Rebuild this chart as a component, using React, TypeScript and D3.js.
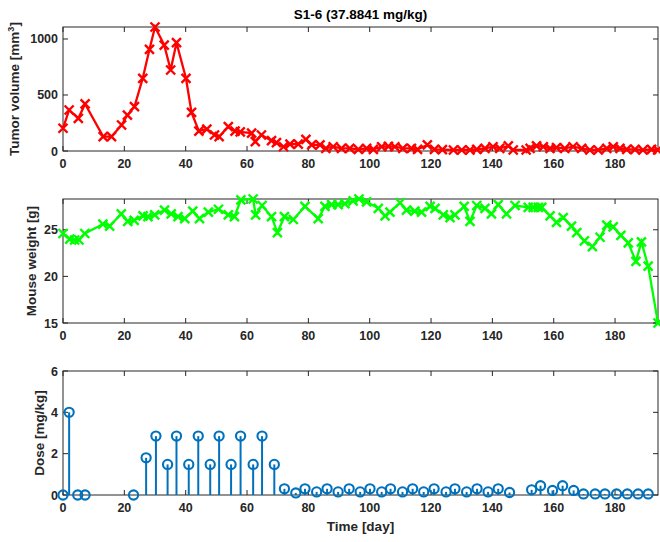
import React from 'react';
import * as d3 from 'd3';

const tumorDays = [0, 2.0, 5.0, 7.2, 13.1, 15.8, 19.1, 21.0, 23.3, 26.0, 28.2, 30.0, 33.0, 35.1, 37.0, 40.1, 41.9, 44.3, 46.9, 49.4, 50.9, 53.9, 56.1, 57.8, 61.5, 62.7, 64.7, 68.0, 69.6, 71.9, 74.0, 76.7, 79.2, 81.1, 83.8, 85.7, 88.1, 90.8, 93.5, 96.3, 99.0, 101.2, 103.9, 106.1, 108.2, 110.8, 113.6, 115.6, 118.8, 121.1, 123.7, 127.3, 130.0, 132.7, 134.9, 137.6, 140.2, 142.4, 145.2, 146.8, 151.0, 152.3, 154.4, 156.6, 158.8, 160.9, 163.6, 166.3, 169.1, 171.8, 174.5, 177.3, 179.4, 181.6, 183.8, 186.5, 189.1, 191.9, 193.9];
const tumorVolume = [203, 366, 292, 420, 128, 128, 232, 321, 396, 649, 908, 1107, 946, 723, 967, 649, 345, 178, 196, 143, 128, 217, 178, 170, 160, 83, 143, 92, 74, 38, 62, 62, 104, 54, 54, 24, 38, 24, 24, 15, 24, 15, 38, 42, 38, 24, 24, 15, 54, 15, 12, 9, 9, 9, 15, 24, 38, 24, 45, 9, 9, 24, 45, 38, 24, 30, 24, 38, 24, 9, 9, 24, 38, 24, 15, 15, 9, 15, 9];

const weightDays = [0, 2.2, 3.8, 5.2, 7.1, 13.0, 15.2, 19.0, 21.1, 23.2, 26.1, 27.7, 29.9, 33.1, 35.3, 37.5, 39.7, 42.3, 44.5, 47.4, 50.7, 53.9, 55.9, 58.0, 62.0, 62.8, 64.9, 68.0, 69.9, 72.2, 75.1, 78.9, 83.2, 85.4, 87.6, 89.7, 91.9, 94.6, 96.5, 99.0, 102.8, 105.0, 106.6, 109.9, 112.0, 114.7, 116.9, 119.7, 121.3, 124.0, 126.2, 127.8, 130.8, 132.7, 134.9, 137.6, 139.7, 141.9, 144.6, 147.4, 151.7, 153.3, 155.0, 156.1, 158.8, 160.9, 163.1, 165.8, 167.5, 170.0, 172.6, 175.1, 177.3, 179.4, 181.9, 184.3, 186.8, 188.6, 190.8, 194.0];
const weightValues = [24.6, 24.0, 23.9, 23.9, 24.6, 25.6, 25.4, 26.7, 25.9, 26.0, 26.5, 26.4, 26.6, 27.1, 26.7, 26.4, 26.2, 27.0, 26.2, 26.9, 27.2, 26.6, 26.4, 28.2, 28.3, 26.6, 27.6, 26.4, 24.7, 26.4, 26.1, 27.5, 26.2, 27.5, 27.7, 27.7, 27.8, 28.1, 28.3, 28.0, 27.3, 26.5, 26.9, 27.9, 27.1, 27.0, 26.9, 27.5, 27.3, 26.6, 26.3, 26.6, 27.5, 25.9, 27.6, 27.3, 26.7, 27.7, 26.7, 27.6, 27.4, 27.4, 27.4, 27.4, 26.5, 25.8, 26.3, 25.4, 24.7, 23.8, 23.2, 24.2, 25.5, 25.3, 24.4, 23.6, 21.6, 23.7, 21.1, 15.0];

const doseDays = [0, 2.0, 4.8, 7.2, 23.0, 27.1, 30.3, 34.1, 37.0, 41.0, 44.1, 48.0, 50.9, 54.8, 57.9, 62.0, 64.9, 68.9, 72.2, 75.9, 78.9, 82.7, 86.1, 89.7, 93.3, 96.9, 100.1, 103.9, 106.8, 110.7, 114.0, 117.6, 121.0, 124.9, 127.8, 131.6, 135.0, 138.6, 141.9, 145.6, 152.8, 155.7, 159.6, 162.9, 166.5, 169.7, 173.5, 176.7, 180.5, 184.0, 187.5, 190.8];
const doseValues = [0, 4.0, 0, 0, 0, 1.8, 2.85, 1.48, 2.85, 1.48, 2.85, 1.48, 2.85, 1.48, 2.85, 1.48, 2.85, 1.48, 0.3, 0.1, 0.3, 0.15, 0.3, 0.15, 0.3, 0.15, 0.3, 0.15, 0.3, 0.15, 0.3, 0.15, 0.3, 0.15, 0.3, 0.15, 0.3, 0.15, 0.3, 0.12, 0.25, 0.45, 0.22, 0.45, 0.22, 0.05, 0.05, 0.05, 0.05, 0.05, 0.05, 0.05];

const xTicks = [0, 20, 40, 60, 80, 100, 120, 140, 160, 180];
const tumorTicks = [0, 500, 1000];
const weightTicks = [15, 20, 25];
const doseTicks = [0, 2, 4, 6];

const FONT = "'Liberation Sans', Arial, Helvetica, sans-serif";
const AX = '#262626';
const LEFT = 63;
const RIGHT = 658;
const PH = 124;

function Frame({ top, y, yTicks, labelX, label }: any) {
  const bottom = top + PH;
  const x = d3.scaleLinear().domain([0, 194]).range([LEFT, RIGHT]);
  const tl = 5;
  return (
    <g>
      {xTicks.map((t) => (
        <g key={'x' + t}>
          <line x1={x(t)} x2={x(t)} y1={bottom} y2={bottom - tl} stroke={AX} strokeWidth={1} />
          <line x1={x(t)} x2={x(t)} y1={top} y2={top + tl} stroke={AX} strokeWidth={1} />
          <text x={x(t)} y={bottom + 17} textAnchor="middle" fontSize={12.5} fontWeight="bold" fill={AX} fontFamily={FONT}>{t}</text>
        </g>
      ))}
      {yTicks.map((t: number) => (
        <g key={'y' + t}>
          <line x1={LEFT} x2={LEFT + tl} y1={y(t)} y2={y(t)} stroke={AX} strokeWidth={1} />
          <line x1={RIGHT} x2={RIGHT - tl} y1={y(t)} y2={y(t)} stroke={AX} strokeWidth={1} />
          <text x={LEFT - 5} y={y(t) + 4.5} textAnchor="end" fontSize={12.5} fontWeight="bold" fill={AX} fontFamily={FONT}>{t}</text>
        </g>
      ))}
      <rect x={LEFT} y={top} width={RIGHT - LEFT} height={PH} fill="none" stroke={AX} strokeWidth={1} />
      <text transform={`translate(${labelX},${top + PH / 2}) rotate(-90)`} textAnchor="middle" fontSize={13.5} fontWeight="bold" fill={AX} fontFamily={FONT}>{label}</text>
    </g>
  );
}

export default function App() {
  const x = d3.scaleLinear().domain([0, 194]).range([LEFT, RIGHT]);
  const tops = [27, 199, 371];

  const yT = d3.scaleLinear().domain([0, d3.max(tumorVolume) as number]).range([tops[0] + PH, tops[0]]);
  const yW = d3.scaleLinear().domain(d3.extent(weightValues) as [number, number]).range([tops[1] + PH, tops[1]]);
  const yD = d3.scaleLinear().domain([0, 6]).range([tops[2] + PH, tops[2]]);

  const tumorPts = tumorDays.map((d, i) => [d, tumorVolume[i]] as [number, number]);
  const weightPts = weightDays.map((d, i) => [d, weightValues[i]] as [number, number]);

  const lineT = d3.line<[number, number]>().x((d) => x(d[0])).y((d) => yT(d[1]));
  const lineW = d3.line<[number, number]>().x((d) => x(d[0])).y((d) => yW(d[1]));
  const s = 4.5;
  const cross = `M${-s},${-s}L${s},${s}M${-s},${s}L${s},${-s}`;

  return (
    <svg width={660} height={542} style={{ position: 'absolute', left: 0, top: 0, background: '#fff' }}>
      <rect width={660} height={542} fill="#fff" />
      <text x={(LEFT + RIGHT) / 2} y={19} textAnchor="middle" fontSize={13.5} fontWeight="bold" fill="#000" fontFamily={FONT}>S1-6 (37.8841 mg/kg)</text>

      <Frame top={tops[0]} y={yT} yTicks={tumorTicks} labelX={19} label={<>
        <tspan>Tumor volume [mm</tspan><tspan baselineShift="super" fontSize={9}>3</tspan><tspan>]</tspan>
      </>} />
      <path d={lineT(tumorPts) || ''} fill="none" stroke="#ff0000" strokeWidth={2.3} />
      {tumorPts.map((p, i) => (
        <path key={'t' + i} d={cross} transform={`translate(${x(p[0])},${yT(p[1])})`} stroke="#ff0000" strokeWidth={2.4} fill="none" />
      ))}

      <Frame top={tops[1]} y={yW} yTicks={weightTicks} labelX={36} label="Mouse weight [g]" />
      <path d={lineW(weightPts) || ''} fill="none" stroke="#00ff00" strokeWidth={2.3} />
      {weightPts.map((p, i) => (
        <path key={'w' + i} d={cross} transform={`translate(${x(p[0])},${yW(p[1])})`} stroke="#00ff00" strokeWidth={2.4} fill="none" />
      ))}

      <Frame top={tops[2]} y={yD} yTicks={doseTicks} labelX={44} label="Dose [mg/kg]" />
      {doseDays.map((d, i) => (
        <g key={'d' + i}>
          <line x1={x(d)} x2={x(d)} y1={yD(0)} y2={yD(doseValues[i])} stroke="#0072bd" strokeWidth={2} />
          <circle cx={x(d)} cy={yD(doseValues[i])} r={4.6} fill="none" stroke="#0072bd" strokeWidth={2.1} />
        </g>
      ))}
      <text x={(LEFT + RIGHT) / 2} y={531} textAnchor="middle" fontSize={13.5} fontWeight="bold" fill={AX} fontFamily={FONT}>Time [day]</text>
    </svg>
  );
}
